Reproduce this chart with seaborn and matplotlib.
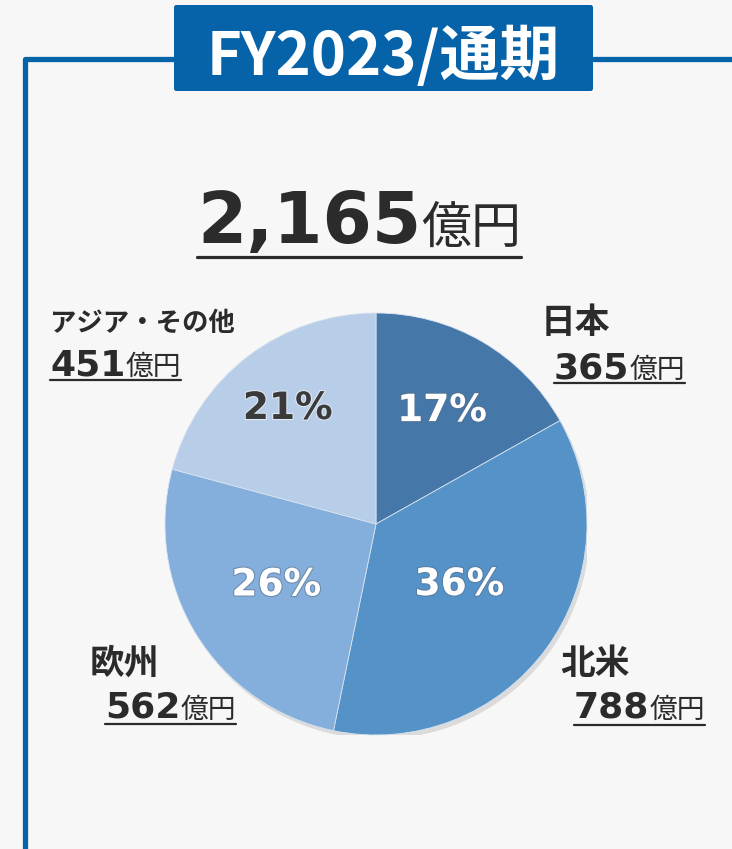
import matplotlib
matplotlib.use("Agg")
import numpy as np
import matplotlib.pyplot as plt
import seaborn as sns
from matplotlib import patheffects as pe
from matplotlib.patches import FancyBboxPatch, Circle
from matplotlib.lines import Line2D

# ---- data ----
regions = ["日本", "北米", "欧州", "アジア・その他"]
sales = [365, 788, 562, 451]
pct_labels = ["17%", "36%", "26%", "21%"]
total_label = "2,165"
unit = "億円"
title = "FY2023/通期"
colors = ["#4677a9", "#5592c8", "#84aedb", "#b8cde8"]

W, H = 732, 849
BG = "#f7f7f7"
DARK = "#2b2b2b"
BLUE = "#0663a9"

sns.set_theme(style="white", rc={"figure.facecolor": BG, "axes.facecolor": BG})
plt.rcParams['font.family'] = ['Noto Sans CJK JP', 'DejaVu Sans']

fig = plt.figure(figsize=(W / 100, H / 100), dpi=100)
fig.patch.set_facecolor(BG)


def fx(x):
    return x / W


def fy(y):
    return 1 - y / H


# ---- frame and title box ----
fig.add_artist(Line2D([fx(25), fx(25), fx(740)], [fy(860), fy(59), fy(59)],
                      color="#0563a8", lw=3.8, solid_joinstyle="round",
                      transform=fig.transFigure))
fig.add_artist(FancyBboxPatch((fx(174), fy(91)), fx(593) - fx(174), fy(5) - fy(91),
                              boxstyle="round,pad=0,rounding_size=0.003",
                              fc=BLUE, ec="none", transform=fig.transFigure))
fig.text(fx(383), fy(75), title, color="white", fontsize=43, fontweight="bold",
         ha="center", va="baseline", family=["Noto Sans CJK JP", "DejaVu Sans"])

# ---- pie ----
cx, cy, R = 376, 524, 211
ax = fig.add_axes([fx(cx - R), fy(cy + R), 2 * R / W, 2 * R / H])
ax.set_facecolor("none")
# soft shadow under the whole pie
ax.add_patch(Circle((0, 0), 1.0, fc=BG, ec="none", zorder=0,
                    path_effects=[pe.SimplePatchShadow(offset=(2, -3), alpha=0.16),
                                  pe.Normal()]))
wedges, _ = ax.pie(sales, colors=colors, startangle=90, counterclock=False,
                   wedgeprops=dict(edgecolor="#d7e2ee", linewidth=0.6, zorder=1))
for w in wedges:
    w.set_zorder(1)
ax.set_xlim(-1, 1)
ax.set_ylim(-1, 1)
ax.set_aspect("equal")
ax.axis("off")

pct_dist = [0.62, 0.49, 0.555, 0.687]
pct_colors = ["white", "white", "white", "#3a3a3a"]
pct_shadow = ["#5a6f88", "#5a6f88", "#5a6f88", "white"]
for w, lab, d, c, sc in zip(wedges, pct_labels, pct_dist, pct_colors, pct_shadow):
    ang = np.deg2rad((w.theta1 + w.theta2) / 2)
    ax.text(d * np.cos(ang), d * np.sin(ang), lab, ha="center", va="center",
            fontsize=27, fontweight="bold", color=c, family="DejaVu Sans", zorder=3,
            path_effects=[pe.withStroke(linewidth=1.6, foreground=sc, alpha=0.55)])

# ---- value labels ----
renderer = fig.canvas.get_renderer()


def value_label(x, y_base, num, num_size, unit_size, ul_y, ul_lw):
    t1 = fig.text(fx(x), fy(y_base), num, fontsize=num_size, fontweight="bold",
                  family="DejaVu Sans", color=DARK, ha="left", va="baseline")
    bb1 = t1.get_window_extent(renderer)
    t2 = fig.text(bb1.x1 / W, fy(y_base), unit, fontsize=unit_size,
                  family=["Noto Sans CJK JP", "DejaVu Sans"], color=DARK,
                  ha="left", va="baseline")
    bb2 = t2.get_window_extent(renderer)
    fig.add_artist(Line2D([bb1.x0 / W, bb2.x1 / W], [fy(ul_y), fy(ul_y)],
                          color=DARK, lw=ul_lw, transform=fig.transFigure))


# total
value_label(197, 243, total_label, 51, 36, 257, 2.3)

# region labels: name position (left, baseline), value position (left, baseline), underline y
name_pos = [(541, 333), (560, 674), (90, 674), (50, 331)]
name_size = [25, 25, 25, 19]
val_pos = [(554, 378), (574, 718), (105, 718), (50, 375)]
ul_y = [383, 725, 724, 380]

for reg, v, (nx, ny), ns, (vx, vy), uy in zip(regions, sales, name_pos, name_size, val_pos, ul_y):
    fig.text(fx(nx), fy(ny), reg, fontsize=ns, fontweight="bold", color=DARK,
             ha="left", va="baseline", family=["Noto Sans CJK JP", "DejaVu Sans"])
    value_label(vx, vy, f"{v}", 26, 20, uy, 1.6)

fig.savefig("out.png", dpi=100, facecolor=BG)
